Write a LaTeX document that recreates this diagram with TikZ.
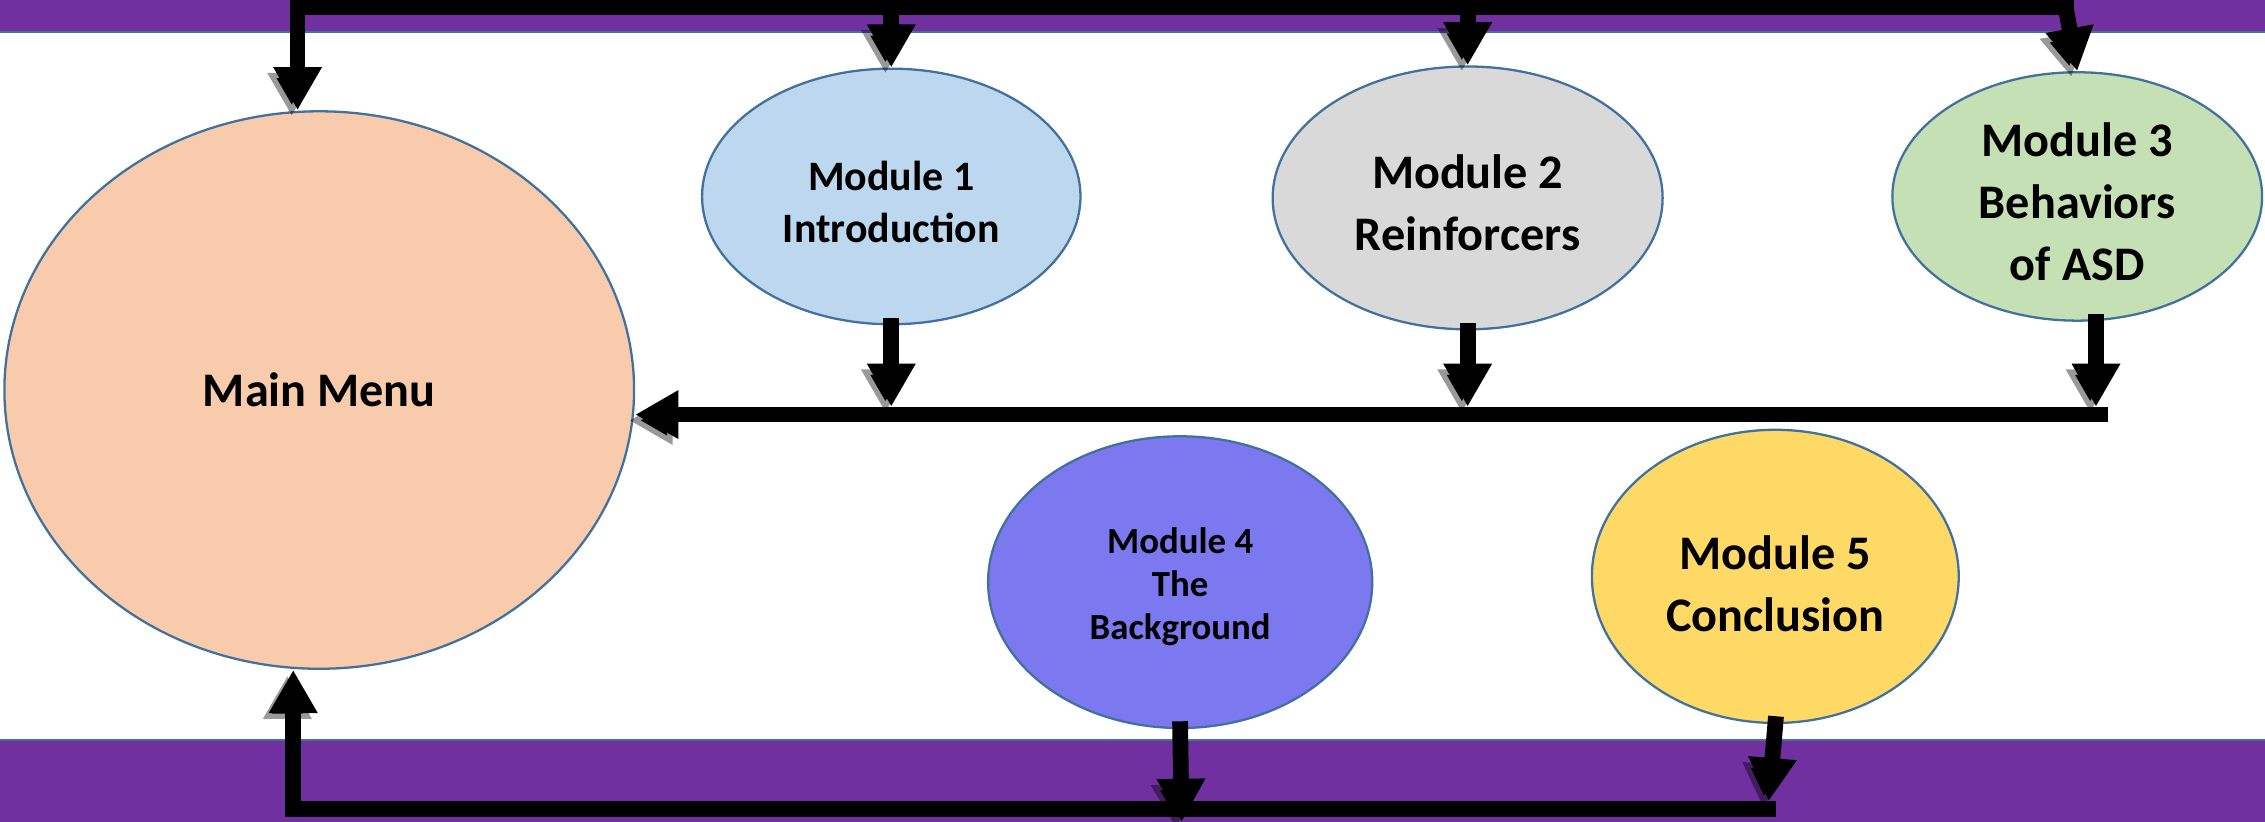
\documentclass[tikz,border=0pt]{standalone}
\usepackage{fontspec}
\setmainfont{Carlito}
\usetikzlibrary{shapes.geometric, arrows.meta}
\definecolor{bandpurple}{HTML}{7030A0}
\definecolor{edgeblue}{HTML}{41719C}
\definecolor{menufill}{HTML}{F8CBAD}
\definecolor{introfill}{HTML}{BDD7EE}
\definecolor{reinffill}{HTML}{D9D9D9}
\definecolor{behavfill}{HTML}{C5E0B4}
\definecolor{backfill}{HTML}{7B78F0}
\definecolor{conclfill}{HTML}{FFD966}
\tikzset{>={Triangle[length=17pt,width=18pt]}}
\tikzset{
  module/.style={ellipse, draw=edgeblue, line width=0.9pt, inner sep=0pt},
  modtext/.style={align=center, font=\bfseries\fontsize{19}{24.5}\selectfont},
  bus/.style={line width=6.2pt, line cap=rect,
    preaction={draw=black, draw opacity=0.4, transform canvas={xshift=-2.3pt, yshift=-2.3pt}}},
  tobus/.style={shorten >=3.1pt}
}

\begin{document}
\begin{tikzpicture}[x=0.02cm, y=-0.02cm]
    \useasboundingbox (0,0) rectangle (1568,569);
    % purple bands
    \fill[bandpurple] (0,0) rectangle (1568,22);
    \draw[edgeblue, line width=0.8pt] (0,22) -- (1568,22);
    \fill[bandpurple] (0,512) rectangle (1568,569);
    \draw[edgeblue, line width=0.8pt] (0,512) -- (1568,512);

    \node[module, fill=menufill, minimum width=8.72cm, minimum height=7.72cm] (mm) at (221,270) {};
    \node[module, fill=introfill, minimum width=5.24cm, minimum height=3.54cm] (m1) at (617,136) {};
    \node[module, fill=reinffill, minimum width=5.4cm, minimum height=3.64cm] (m2) at (1016,137) {};
    \node[module, fill=behavfill, minimum width=5.12cm, minimum height=3.44cm] (m3) at (1438,136) {};
    \node[module, fill=backfill, minimum width=5.32cm, minimum height=4.04cm] (m4) at (817,403) {};
    \node[module, fill=conclfill, minimum width=5.08cm, minimum height=4.06cm] (m5) at (1229,399) {};

    \node[modtext] (mmtext) at (mm) {Main Menu};
    \node[modtext, font=\bfseries\fontsize{16.5}{20.5}\selectfont] (m1text) at ([yshift=-2pt]m1) {Module 1\\Introduction};
    \node[modtext] (m2text) at ([yshift=-2pt]m2) {Module 2\\Reinforcers};
    \node[modtext] (m3text) at ([yshift=-2pt]m3) {Module 3\\Behaviors\\of ASD};
    \node[modtext, font=\bfseries\fontsize{14.5}{17}\selectfont] (m4text) at ([yshift=-1.8pt]m4) {Module 4\\The\\Background};
    \node[modtext] (m5text) at ([yshift=-3pt]m5) {Module 5\\Conclusion};

    % top line
    \coordinate (topL) at (206,5);
    \coordinate (topR) at (1430,5);
    \draw[bus, ->] (topR) -- (topL) -- (mm.north -| topL);
    \draw[bus, ->] (m1.north |- topL) -- (m1.north);
    \draw[bus, ->] (m2.north |- topL) -- (m2.north);
    \draw[bus, ->] (topR) -- (m3.north);

    % middle line
    \coordinate (midR) at (1454,287);
    \draw[bus, ->] (midR) -- (mm.east |- midR);
    \draw[bus, ->, tobus] (m1.south) -- (m1.south |- midR);
    \draw[bus, ->, tobus] (m2.south) -- (m2.south |- midR);
    \draw[bus, ->, tobus] ([xshift=7.4pt]m3.south) -- ([xshift=7.4pt]m3.south |- midR);

    % bottom line
    \coordinate (botL) at (203,560);
    \coordinate (botR) at (1224,560);
    \coordinate (botM) at (818,569);
    \draw[bus, ->] (botR) -- (botL) -- (mm.south -| botL);
    \draw[bus, ->] (m4.south) -- (botM);
    \draw[bus, ->, tobus] (m5.south) -- (botR);
\end{tikzpicture}
\end{document}
